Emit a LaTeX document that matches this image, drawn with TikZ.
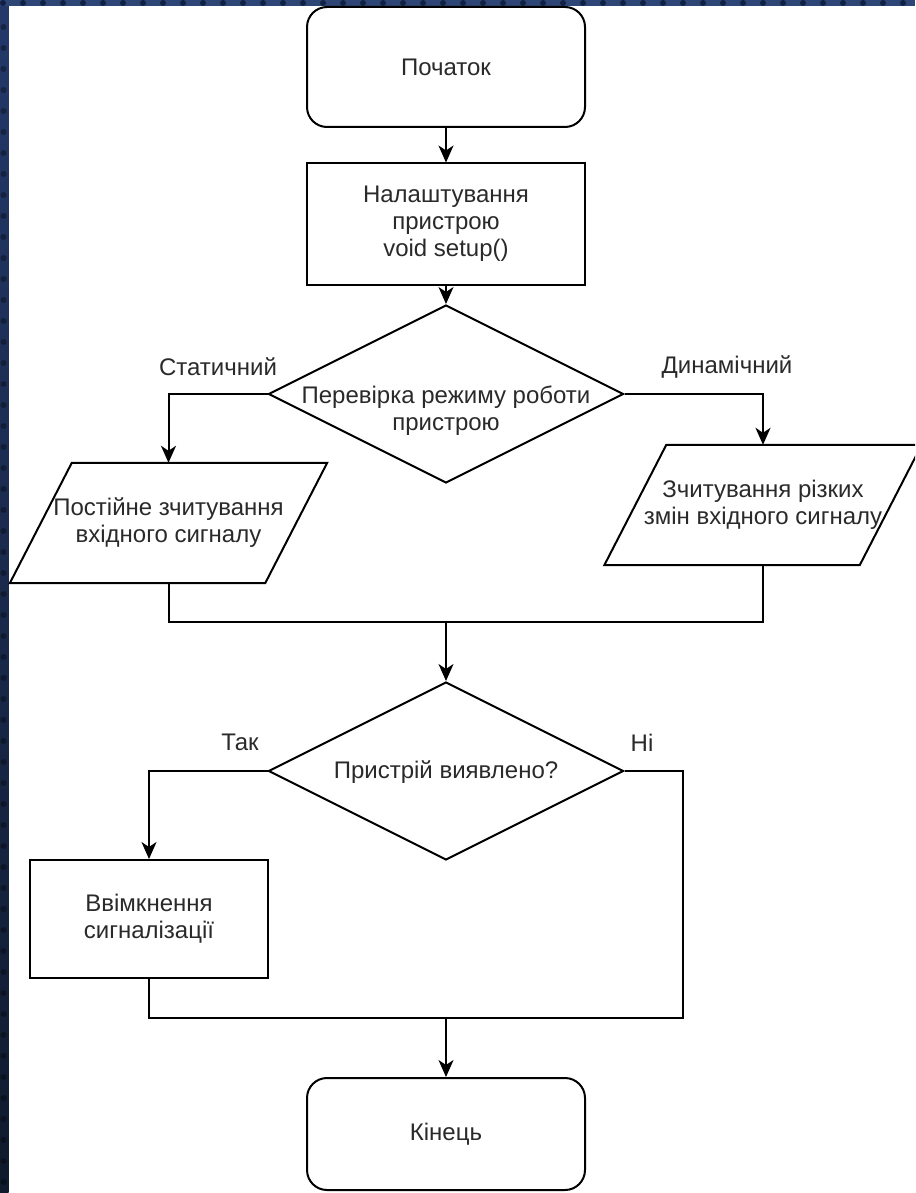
\documentclass[tikz,border=0pt]{standalone}
\usepackage{fontspec}
\setmainfont{Liberation Sans}
\usetikzlibrary{arrows.meta,shapes.geometric,calc}
\definecolor{txt}{HTML}{2A2A2A}
\definecolor{topblue}{HTML}{2D4675}
\definecolor{sidetop}{HTML}{24396A}
\definecolor{sidebot}{HTML}{0F1A2C}
\definecolor{dotc}{HTML}{0B1838}
\begin{document}
\begin{tikzpicture}[x=1pt,y=-1pt,
  font=\fontsize{24}{27}\selectfont,
  lw/.style={line width=2pt,draw=black},
  arr/.style={lw,-{Stealth[length=17pt,width=15pt,inset=5pt]}},
  plain/.style={lw},
  term/.style={lw,rounded corners=20pt,minimum width=278pt,minimum height=120pt,inner sep=0pt,align=center,text=txt},
  box/.style={lw,minimum width=278pt,minimum height=121pt,inner sep=0pt,align=center,text=txt},
  dia/.style={lw,diamond,minimum width=355pt,minimum height=178pt,inner sep=0pt},
  io/.style={minimum width=317pt,minimum height=120pt,inner sep=0pt,align=center,text=txt},
  txtnode/.style={inner sep=0pt,align=center,text=txt}
]
\useasboundingbox (0,0) rectangle (915,1193);
\clip (0,0) rectangle (915,1193);
\fill[white] (0,0) rectangle (915,1193);
% background frame
\shade[top color=sidetop,bottom color=sidebot] (0,0) rectangle (8.5,1193);
\fill[topblue] (0,0) rectangle (915,6.5);
\foreach \x in {3,23,...,915} \fill[dotc,opacity=0.8] (\x,3) circle (3pt);
\foreach \y in {27,48,...,1193} \fill[black,opacity=0.35] (3.5,\y) circle (3pt);

% nodes
\node[term] (start) at (446,67) {Початок};
\node[box] (setup) at (446,224) {Налаштування\\пристрою\\void setup()};
\node[dia] (d1) at (446,394) {};
\node[txtnode] (d1t) at (446,411) {Перевірка режиму роботи\\пристрою};
\node[io] (p1) at (168.5,523) {Постійне зчитування\\вхідного сигналу};
\node[io] (p2) at (763,505) {Зчитування різких\\змін вхідного сигналу};
\draw[lw] ($(p1.north west)+(62,0)$) -- (p1.north east) -- ($(p1.south east)+(-62,0)$) -- (p1.south west) -- cycle;
\draw[lw] ($(p2.north west)+(62,0)$) -- (p2.north east) -- ($(p2.south east)+(-62,0)$) -- (p2.south west) -- cycle;
\node[dia] (d2) at (446,771) {};
\node[txtnode] (d2t) at (446,772) {Пристрій виявлено?};
\node[box,minimum width=238pt,minimum height=118pt] (alarm) at (149,919) {Ввімкнення\\сигналізації};
\node[term,minimum height=112pt] (end) at (446,1134) {Кінець};

% labels
\node[txtnode] (lst) at (218,367) {Статичний};
\node[txtnode] (ldyn) at (727,367) {Динамічний};
\node[txtnode] (lyes) at (240,742) {Так};
\node[txtnode] (lno) at (642,743) {Ні};

% connectors
\coordinate (m1) at (446,622);
\coordinate (m2) at (446,1018);
\coordinate (r2) at (683,1018);
\draw[arr] (start) -- (setup);
\draw[arr] (setup) -- (d1.north);
\draw[arr] (d1.west) -| (p1.north);
\draw[arr] (d1.east) -| (p2.north);
\draw[plain] (p1.south) |- (m1) -| (p2.south);
\draw[arr] (m1) -- (d2.north);
\draw[arr] (d2.west) -| (alarm.north);
\draw[plain] (alarm.south) |- (r2) |- (d2.east);
\draw[arr] (m2) -- (end.north);
\end{tikzpicture}
\end{document}
